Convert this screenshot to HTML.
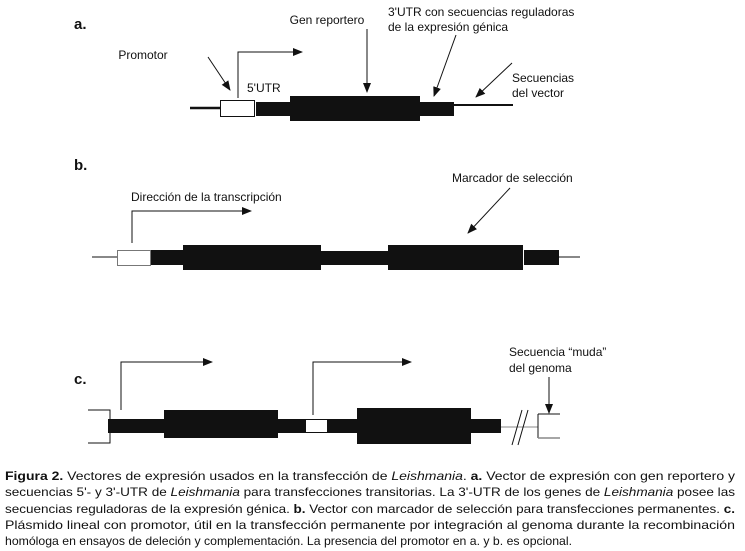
<!DOCTYPE html>
<html><head><meta charset="utf-8"><style>
html,body{margin:0;padding:0;background:#fff;}
svg{display:block;font-family:"Liberation Sans",Arial,sans-serif;}
</style></head><body>
<svg width="745" height="551" viewBox="0 0 745 551" xmlns="http://www.w3.org/2000/svg">
<defs><marker id="ah" markerWidth="10" markerHeight="8" refX="9" refY="4" orient="auto" markerUnits="userSpaceOnUse"><path d="M0,0 L10,4 L0,8 Z" fill="#111"/></marker></defs>
<g fill="#111" font-size="12">
<!-- a -->
<text x="74" y="29" font-size="15" font-weight="bold">a.</text>
<line x1="190" y1="108" x2="221" y2="108" stroke="#111" stroke-width="2.5"/>
<rect x="220.5" y="100.5" width="34" height="16" fill="#fff" stroke="#111" stroke-width="1"/>
<rect x="256" y="102" width="34" height="14"/>
<rect x="290" y="96" width="130" height="25"/>
<rect x="420" y="102" width="34" height="14"/>
<line x1="454" y1="105" x2="513" y2="105" stroke="#111" stroke-width="2"/>
<polyline points="238,98 238,52 302,52" fill="none" stroke="#111" stroke-width="1" marker-end="url(#ah)"/>
<text x="143" y="59" text-anchor="middle">Promotor</text>
<line x1="208" y1="57" x2="230" y2="90" stroke="#111" stroke-width="1" marker-end="url(#ah)"/>
<text x="247" y="92">5'UTR</text>
<text x="327" y="24" text-anchor="middle">Gen reportero</text>
<line x1="367" y1="29" x2="367" y2="92" stroke="#111" stroke-width="1" marker-end="url(#ah)"/>
<text x="388" y="16">3'UTR con secuencias reguladoras</text>
<text x="388" y="31">de la expresión génica</text>
<line x1="456" y1="35" x2="434" y2="96" stroke="#111" stroke-width="1" marker-end="url(#ah)"/>
<text x="512" y="82">Secuencias</text>
<text x="512" y="97">del vector</text>
<line x1="512" y1="63" x2="476" y2="97" stroke="#111" stroke-width="1" marker-end="url(#ah)"/>
<!-- b -->
<text x="74" y="170" font-size="15" font-weight="bold">b.</text>
<line x1="92" y1="257" x2="117" y2="257" stroke="#111" stroke-width="1"/>
<rect x="117.5" y="250.5" width="33" height="15" fill="#fff" stroke="#777" stroke-width="1"/>
<rect x="151" y="250" width="32" height="15"/>
<rect x="183" y="245" width="138" height="25"/>
<rect x="321" y="251" width="67" height="14"/>
<rect x="388" y="245" width="135" height="25"/>
<rect x="524" y="250" width="35" height="15"/>
<line x1="559" y1="257" x2="580" y2="257" stroke="#111" stroke-width="1"/>
<polyline points="132,243 132,211 251,211" fill="none" stroke="#111" stroke-width="1" marker-end="url(#ah)"/>
<text x="131" y="201">Dirección de la transcripción</text>
<text x="452" y="182">Marcador de selección</text>
<line x1="510" y1="188" x2="468" y2="233" stroke="#111" stroke-width="1" marker-end="url(#ah)"/>
<!-- c -->
<text x="74" y="384" font-size="15" font-weight="bold">c.</text>
<polyline points="88,410 110,410 110,443 88,443" fill="none" stroke="#111" stroke-width="1"/>
<rect x="108" y="419" width="57" height="14"/>
<rect x="164" y="410" width="114" height="28"/>
<rect x="278" y="419" width="27" height="14"/>
<rect x="305.5" y="419.5" width="22" height="13" fill="#fff" stroke="#111" stroke-width="1"/>
<rect x="327" y="419" width="30" height="14"/>
<rect x="357" y="408" width="114" height="36"/>
<rect x="471" y="419" width="30" height="14"/>
<line x1="501" y1="427" x2="538" y2="427" stroke="#888" stroke-width="1"/>
<line x1="512" y1="445" x2="522" y2="410" stroke="#111" stroke-width="1"/>
<line x1="518" y1="445" x2="528" y2="410" stroke="#111" stroke-width="1"/>
<line x1="538" y1="414" x2="538" y2="438" stroke="#111" stroke-width="1"/>
<line x1="538" y1="414" x2="560" y2="414" stroke="#111" stroke-width="1"/>
<line x1="538" y1="438" x2="560" y2="438" stroke="#888" stroke-width="1.5"/>
<polyline points="121,410 121,362 212,362" fill="none" stroke="#111" stroke-width="1" marker-end="url(#ah)"/>
<polyline points="313,415 313,362 411,362" fill="none" stroke="#111" stroke-width="1" marker-end="url(#ah)"/>
<text x="509" y="356">Secuencia “muda”</text>
<text x="509" y="372">del genoma</text>
<line x1="549" y1="377" x2="549" y2="413" stroke="#111" stroke-width="1" marker-end="url(#ah)"/>
</g>
<g font-size="12" fill="#111">
<text x="5" y="480" textLength="730" lengthAdjust="spacingAndGlyphs"><tspan font-weight="bold">Figura 2.</tspan> Vectores de expresión usados en la transfección de <tspan font-style="italic">Leishmania</tspan>. <tspan font-weight="bold">a.</tspan> Vector de expresión con gen reportero y</text>
<text x="5" y="496" textLength="730" lengthAdjust="spacingAndGlyphs">secuencias 5'- y 3'-UTR de <tspan font-style="italic">Leishmania</tspan> para transfecciones transitorias. La 3'-UTR de los genes de <tspan font-style="italic">Leishmania</tspan> posee las</text>
<text x="5" y="513" textLength="730" lengthAdjust="spacingAndGlyphs">secuencias reguladoras de la expresión génica. <tspan font-weight="bold">b.</tspan> Vector con marcador de selección para transfecciones permanentes. <tspan font-weight="bold">c.</tspan></text>
<text x="5" y="529" textLength="730" lengthAdjust="spacingAndGlyphs">Plásmido lineal con promotor, útil en la transfección permanente por integración al genoma durante la recombinación</text>
<text x="5" y="545" textLength="567" lengthAdjust="spacingAndGlyphs">homóloga en ensayos de deleción y complementación. La presencia del promotor en a. y b. es opcional.</text>
</g>
</svg>
</body></html>
